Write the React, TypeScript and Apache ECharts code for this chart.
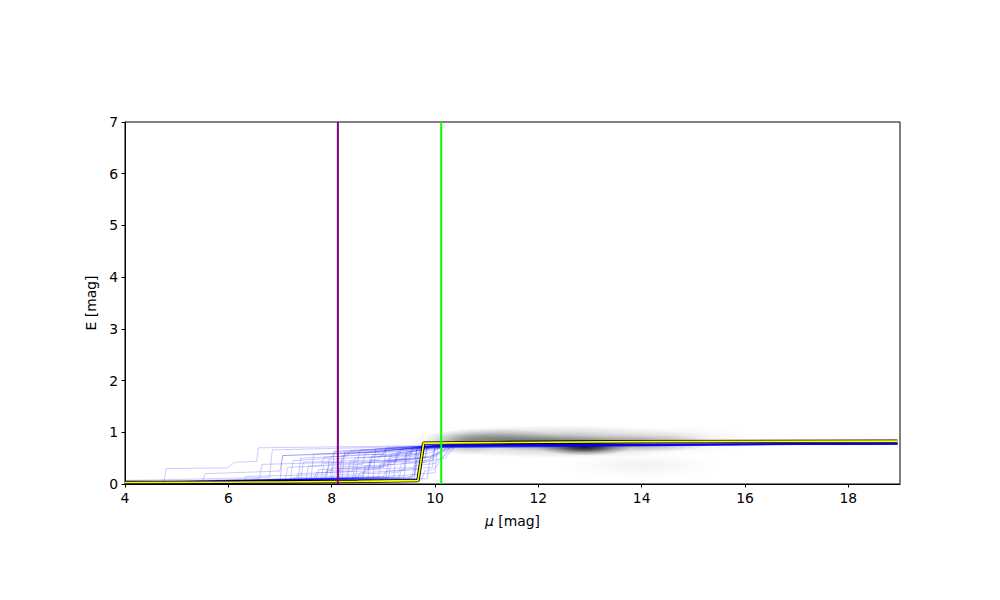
import React, { useEffect, useRef } from 'react';
import * as echarts from 'echarts';

// vertical reference lines (mu in mag)
const purpleMu = 8.12;
const greenMu = 10.12;

// best-fit extinction profile (mu, E)
const yellowLine: [number, number][] = [
  [4, 0.03], [6, 0.035], [7, 0.04], [8.5, 0.05], [9.67, 0.065], [9.78, 0.79],
  [11, 0.8], [14, 0.82], [18.95, 0.83],
];

// sampled extinction profiles (mu, E)
const blueLines: [number, number][][] = [
  [[4, 0.03], [4.75, 0.05], [4.8, 0.30], [5.97, 0.31], [6.13, 0.42], [6.55, 0.44], [6.58, 0.70], [9.9, 0.74], [12, 0.77], [18.95, 0.78]],
  [[4, 0.07], [4.7, 0.08], [6.8, 0.13], [6.85, 0.66], [9.8, 0.73], [12, 0.77], [18.95, 0.785]],
  [[4, 0.02], [7.0, 0.07], [7.05, 0.55], [8.8, 0.62], [10.1, 0.74], [18.95, 0.78]],
  [[4, 0.02], [7.2, 0.06], [7.25, 0.45], [8.0, 0.50], [8.05, 0.62], [10.0, 0.74], [18.95, 0.775]],
  [[4, 0.03], [6.6, 0.10], [6.65, 0.38], [8.2, 0.42], [8.25, 0.58], [10.2, 0.75], [18.95, 0.78]],
  [[4, 0.02], [7.5, 0.08], [7.55, 0.35], [8.6, 0.38], [8.65, 0.60], [10.1, 0.74], [18.95, 0.77]],
  [[4, 0.02], [7.7, 0.09], [7.75, 0.28], [9.0, 0.33], [9.05, 0.65], [10.0, 0.74], [18.95, 0.78]],
  [[4, 0.03], [7.3, 0.10], [7.35, 0.20], [8.4, 0.24], [8.45, 0.50], [9.5, 0.55], [9.55, 0.70], [10.3, 0.75], [18.95, 0.78]],
  [[4, 0.02], [7.9, 0.10], [7.95, 0.48], [9.3, 0.55], [9.35, 0.68], [10.2, 0.75], [18.95, 0.785]],
  [[4, 0.02], [8.1, 0.09], [8.15, 0.30], [9.1, 0.35], [9.15, 0.58], [10.3, 0.74], [18.95, 0.78]],
  [[4, 0.02], [8.3, 0.10], [8.35, 0.42], [9.6, 0.48], [9.65, 0.70], [10.2, 0.75], [18.95, 0.775]],
  [[4, 0.03], [8.5, 0.11], [8.55, 0.22], [9.4, 0.26], [9.45, 0.62], [10.3, 0.75], [18.95, 0.78]],
  [[4, 0.02], [8.7, 0.10], [8.75, 0.52], [9.7, 0.58], [9.75, 0.72], [18.95, 0.78]],
  [[4, 0.02], [8.9, 0.12], [8.95, 0.36], [9.8, 0.42], [10.4, 0.75], [18.95, 0.785]],
  [[4, 0.02], [9.1, 0.12], [9.15, 0.45], [9.9, 0.52], [10.3, 0.74], [18.95, 0.78]],
  [[4, 0.02], [9.3, 0.11], [9.35, 0.28], [9.95, 0.32], [10.0, 0.70], [10.5, 0.75], [18.95, 0.775]],
  [[4, 0.02], [9.5, 0.10], [9.55, 0.18], [10.0, 0.22], [10.05, 0.72], [18.95, 0.78]],
  [[4, 0.02], [9.65, 0.10], [9.7, 0.40], [9.95, 0.45], [10.0, 0.73], [18.95, 0.78]],
  [[4, 0.03], [7.1, 0.08], [7.15, 0.32], [7.8, 0.35], [7.85, 0.52], [9.0, 0.58], [9.05, 0.68], [10.1, 0.75], [18.95, 0.785]],
  [[4, 0.02], [7.6, 0.09], [7.65, 0.58], [9.4, 0.64], [10.1, 0.74], [18.95, 0.78]],
  [[4, 0.02], [8.8, 0.14], [9.6, 0.18], [9.65, 0.66], [10.2, 0.75], [18.95, 0.78]],
  [[4, 0.02], [8.2, 0.07], [8.25, 0.62], [9.6, 0.68], [10.1, 0.75], [18.95, 0.775]],
  [[4, 0.03], [7.4, 0.07], [7.45, 0.42], [8.9, 0.47], [8.95, 0.55], [9.7, 0.60], [9.75, 0.72], [18.95, 0.78]],
  [[4, 0.02], [8.6, 0.12], [8.65, 0.35], [9.2, 0.38], [9.25, 0.48], [9.9, 0.52], [10.4, 0.75], [18.95, 0.78]],
  [[4, 0.02], [9.0, 0.14], [9.05, 0.25], [9.7, 0.28], [9.75, 0.62], [10.3, 0.74], [18.95, 0.785]],
  [[4, 0.02], [6.8, 0.05], [7.8, 0.10], [7.85, 0.40], [8.5, 0.43], [8.55, 0.66], [10.0, 0.74], [18.95, 0.78]],
  [[4, 0.02], [9.2, 0.13], [9.25, 0.60], [10.0, 0.68], [10.3, 0.75], [18.95, 0.78]],
  [[4, 0.02], [8.4, 0.10], [8.45, 0.30], [9.0, 0.32], [9.05, 0.45], [9.8, 0.50], [9.85, 0.72], [18.95, 0.775]],
  [[4, 0.02], [6.3, 0.04], [6.35, 0.15], [7.9, 0.18], [7.95, 0.38], [9.5, 0.45], [9.55, 0.66], [10.2, 0.75], [18.95, 0.78]],
  [[4, 0.05], [5.5, 0.06], [5.55, 0.20], [7.0, 0.25], [7.05, 0.55], [9.2, 0.62], [10.0, 0.74], [18.95, 0.78]],
  [[4, 0.02], [9.55, 0.12], [9.6, 0.35], [10.0, 0.40], [10.4, 0.74], [18.95, 0.785]],
  [[4, 0.02], [9.75, 0.10], [9.8, 0.25], [10.0, 0.30], [10.3, 0.72], [18.95, 0.78]],
  [[4, 0.02], [8.8, 0.09], [8.85, 0.68], [10.0, 0.74], [18.95, 0.78]],
  [[4, 0.02], [7.65, 0.08], [7.7, 0.22], [8.7, 0.25], [8.75, 0.45], [9.4, 0.48], [9.45, 0.60], [10.1, 0.74], [18.95, 0.775]],
  [[4, 0.02], [9.4, 0.12], [9.45, 0.55], [9.9, 0.60], [10.2, 0.74], [18.95, 0.78]],
  [[4, 0.03], [7.0, 0.06], [8.0, 0.10], [8.05, 0.18], [9.3, 0.22], [9.35, 0.40], [9.8, 0.44], [9.85, 0.70], [18.95, 0.78]],
  [[4, 0.02], [8.15, 0.10], [8.2, 0.55], [9.0, 0.58], [9.05, 0.70], [10.1, 0.75], [18.95, 0.785]],
  [[4, 0.02], [9.6, 0.14], [9.65, 0.50], [9.95, 0.55], [10.0, 0.72], [18.95, 0.78]],
  [[4, 0.02], [7.2, 0.07], [7.25, 0.12], [8.6, 0.16], [8.65, 0.28], [9.6, 0.32], [9.65, 0.68], [10.2, 0.75], [18.95, 0.78]],
  [[4, 0.02], [9.85, 0.10], [9.9, 0.45], [10.2, 0.50], [10.4, 0.74], [18.95, 0.775]],
  [[4, 0.02], [6.0, 0.04], [9.68, 0.08], [9.75, 0.73], [18.95, 0.78]],
  [[4, 0.03], [7.5, 0.06], [9.6, 0.10], [9.7, 0.72], [18.95, 0.78]],
  [[4, 0.02], [8.0, 0.08], [8.05, 0.64], [9.5, 0.70], [10.1, 0.75], [18.95, 0.78]],
  [[4, 0.02], [7.85, 0.07], [7.9, 0.26], [8.9, 0.29], [8.95, 0.40], [9.85, 0.46], [10.3, 0.74], [18.95, 0.78]],
  [[4, 0.02], [7.35, 0.06], [7.4, 0.50], [8.3, 0.54], [8.35, 0.64], [9.9, 0.70], [10.3, 0.75], [18.95, 0.78]],
  [[4, 0.02], [8.45, 0.08], [8.5, 0.40], [9.25, 0.44], [9.3, 0.66], [10.1, 0.74], [18.95, 0.78]],
  [[4, 0.02], [7.95, 0.06], [8.0, 0.32], [8.75, 0.36], [8.8, 0.56], [9.55, 0.60], [9.6, 0.70], [18.95, 0.78]],
  [[4, 0.02], [9.05, 0.10], [9.1, 0.50], [9.75, 0.55], [9.8, 0.70], [18.95, 0.78]],
];

// density background blobs: centre (mu, E), half-size (mu, E), peak opacity
const blobMu = [12.4, 11.1, 12.9, 12.2, 13.9, 14.0, 10.6, 14.8];
const blobE = [0.82, 0.88, 0.71, 0.8, 0.79, 0.36, 0.78, 0.85];
const blobRx = [3.0, 1.3, 0.9, 1.4, 1.5, 1.6, 0.7, 1.4];
const blobRy = [0.32, 0.2, 0.16, 0.16, 0.17, 0.26, 0.22, 0.28];
const blobAlpha = [0.35, 0.35, 0.85, 0.35, 0.3, 0.05, 0.25, 0.08];

const FONT = 'DejaVu Sans';

export default function App() {
  const ref = useRef<HTMLDivElement>(null);
  useEffect(() => {
    const chart = echarts.init(ref.current!, undefined, { renderer: 'svg' });
    const blobData = blobMu.map((m, i) => [m, blobE[i], blobRx[i], blobRy[i], blobAlpha[i]]);
    const series: any[] = [];
    series.push({
      type: 'custom',
      data: blobData,
      clip: true,
      silent: true,
      z: 1,
      renderItem: (_p: any, api: any) => {
        const c = api.coord([api.value(0), api.value(1)]);
        const s = api.size([api.value(2), api.value(3)]);
        const a = api.value(4);
        return {
          type: 'ellipse',
          shape: { cx: c[0], cy: c[1], rx: s[0], ry: s[1] },
          style: {
            fill: new echarts.graphic.RadialGradient(0.5, 0.5, 0.5, [
              { offset: 0, color: `rgba(0,0,0,${a})` },
              { offset: 0.3, color: `rgba(0,0,0,${a * 0.75})` },
              { offset: 0.65, color: `rgba(0,0,0,${a * 0.3})` },
              { offset: 1, color: 'rgba(0,0,0,0)' },
            ]),
          },
        };
      },
    });
    blueLines.forEach((l) =>
      series.push({
        type: 'line',
        data: l,
        symbol: 'none',
        silent: true,
        z: 2,
        lineStyle: { color: 'rgba(0,0,255,0.26)', width: 0.8 },
      })
    );
    series.push({
      type: 'line', data: yellowLine, symbol: 'none', silent: true, z: 3,
      lineStyle: { color: '#000', width: 3.4 },
    });
    series.push({
      type: 'line', data: yellowLine, symbol: 'none', silent: true, z: 4,
      lineStyle: { color: '#ffff00', width: 1.6 },
    });
    series.push({
      type: 'line', data: [[purpleMu, 0], [purpleMu, 7]], symbol: 'none', silent: true, z: 5,
      lineStyle: { color: '#800080', width: 2 },
    });
    series.push({
      type: 'line', data: [[greenMu, 0], [greenMu, 7]], symbol: 'none', silent: true, z: 5,
      lineStyle: { color: '#00ff00', width: 2 },
    });

    chart.setOption({
      animation: false,
      backgroundColor: '#fff',
      grid: {
        left: 125, right: 100, top: 122, bottom: 116,
        show: true, borderColor: '#000', borderWidth: 1, backgroundColor: 'transparent',
      },
      xAxis: {
        type: 'value', min: 4, max: 19, interval: 2,
        name: '{i|μ} [mag]', nameLocation: 'middle', nameGap: 30,
        nameTextStyle: {
          color: '#000', fontFamily: FONT, fontSize: 13.9,
          rich: { i: { fontStyle: 'italic', fontFamily: FONT, fontSize: 13.9, color: '#000' } },
        },
        axisLine: { show: true, lineStyle: { color: '#000', width: 1 } },
        axisTick: { show: true, inside: false, length: 3.5, lineStyle: { color: '#000' } },
        axisLabel: {
          color: '#000', fontFamily: FONT, fontSize: 13.9, margin: 7,
          showMaxLabel: false,
          formatter: (v: number) => (v > 18.5 ? '' : String(v)),
        },
        splitLine: { show: false },
      },
      yAxis: {
        type: 'value', min: 0, max: 7, interval: 1,
        name: 'E [mag]', nameLocation: 'middle', nameGap: 27,
        nameTextStyle: { color: '#000', fontFamily: FONT, fontSize: 13.9 },
        axisLine: { show: true, lineStyle: { color: '#000', width: 1 } },
        axisTick: { show: true, inside: false, length: 3.5, lineStyle: { color: '#000' } },
        axisLabel: { color: '#000', fontFamily: FONT, fontSize: 13.9, margin: 7 },
        splitLine: { show: false },
      },
      series,
    });
    return () => chart.dispose();
  }, []);
  return <div ref={ref} style={{ position: 'fixed', left: 0, top: 0, width: 1000, height: 600 }} />;
}
